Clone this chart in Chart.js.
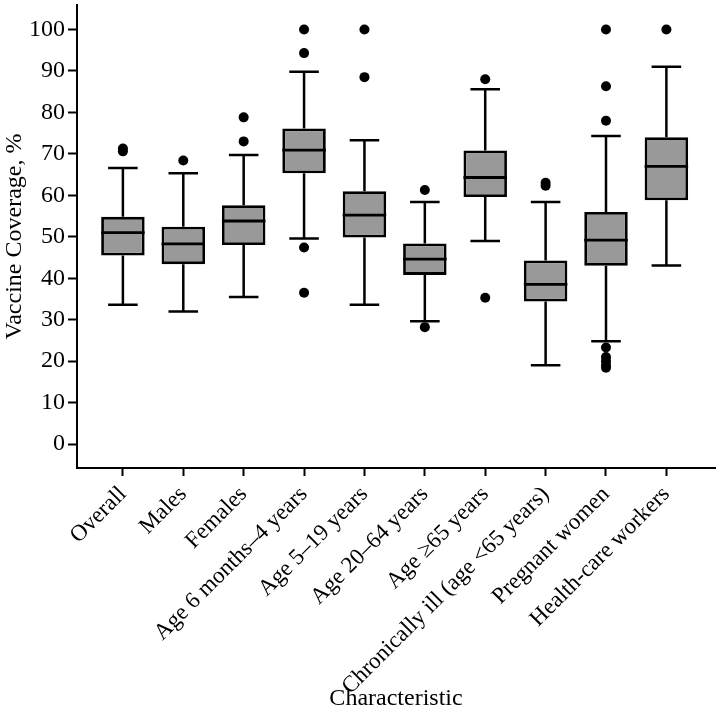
<!DOCTYPE html>
<html>
<head>
<meta charset="utf-8">
<script src="https://cdn.jsdelivr.net/npm/chart.js@4/dist/chart.umd.min.js"></script>
<style>
  body { margin: 0; background: #fff; }
  #wrap { width: 720px; height: 713px; }
</style>
</head>
<body>
<div id="wrap"><canvas id="chart"></canvas></div>
<script>
const categories = ['Overall', 'Males', 'Females', 'Age 6 months\u20134 years', 'Age 5\u201319 years',
  'Age 20\u201364 years', 'Age \u226565 years', 'Chronically ill (age <65 years)', 'Pregnant women', 'Health-care workers'];

// box plot statistics per category
const whiskerLow = [33.6, 32.0, 35.5, 49.6, 33.6, 29.6, 49.0, 19.0, 24.8, 43.1];
const q1 =         [45.5, 43.4, 48.0, 65.3, 49.8, 40.8, 59.6, 34.4, 43.0, 58.8];
const median =     [51.0, 48.3, 53.8, 70.9, 55.2, 44.6, 64.3, 38.5, 49.2, 67.0];
const q3 =         [54.8, 52.4, 57.6, 76.1, 61.0, 48.4, 70.8, 44.3, 56.0, 74.0];
const whiskerHigh = [66.6, 65.3, 69.7, 89.8, 73.3, 58.4, 85.6, 58.4, 74.3, 91.0];
const outliers = [
  [70.6, 71.3],
  [68.4],
  [78.8, 73.0],
  [100, 94.3, 47.4, 36.5],
  [100, 88.5],
  [61.3, 28.2],
  [88.0, 35.3],
  [62.3, 63.0],
  [100, 86.3, 78.0, 23.3, 21.0, 20.0, 19.0, 18.4],
  [100]
];

const yTicks = [0, 10, 20, 30, 40, 50, 60, 70, 80, 90, 100];

const FONT = '"Liberation Serif", "Times New Roman", Times, serif';

const boxData = categories.map((c, i) => ({ x: i, y: [q1[i], q3[i]] }));
const outlierData = [];
outliers.forEach((list, i) => list.forEach(v => outlierData.push({ x: i, y: v })));

const boxPlugin = {
  id: 'boxParts',
  beforeDatasetsDraw(chart) {
    const ctx = chart.ctx;
    const y = chart.scales.y;
    const bars = chart.getDatasetMeta(0).data;
    ctx.save();
    ctx.strokeStyle = '#000';
    ctx.lineWidth = 2.5;
    bars.forEach((bar, i) => {
      const cx = bar.x;
      const cap = bar.width * 0.34;
      const yLo = y.getPixelForValue(whiskerLow[i]);
      const yHi = y.getPixelForValue(whiskerHigh[i]);
      ctx.beginPath();
      ctx.moveTo(cx, yHi); ctx.lineTo(cx, y.getPixelForValue(q3[i]));
      ctx.moveTo(cx, y.getPixelForValue(q1[i])); ctx.lineTo(cx, yLo);
      ctx.moveTo(cx - cap, yHi); ctx.lineTo(cx + cap, yHi);
      ctx.moveTo(cx - cap, yLo); ctx.lineTo(cx + cap, yLo);
      ctx.stroke();
    });
    ctx.restore();
  },
  afterDatasetDraw(chart, args) {
    if (args.index !== 0) return;
    const ctx = chart.ctx;
    const y = chart.scales.y;
    const bars = chart.getDatasetMeta(0).data;
    ctx.save();
    ctx.strokeStyle = '#000';
    ctx.lineWidth = 2.8;
    bars.forEach((bar, i) => {
      const ym = y.getPixelForValue(median[i]);
      ctx.beginPath();
      ctx.moveTo(bar.x - bar.width / 2, ym);
      ctx.lineTo(bar.x + bar.width / 2, ym);
      ctx.stroke();
    });
    ctx.restore();
  }
};

function draw() {
  new Chart(document.getElementById('chart'), {
    type: 'bar',
    data: {
      datasets: [
        {
          label: 'IQR',
          data: boxData,
          backgroundColor: '#999999',
          borderColor: '#000',
          borderWidth: 2.8,
          borderSkipped: false,
          categoryPercentage: 1,
          barPercentage: 0.72,
          order: 2
        },
        {
          type: 'scatter',
          label: 'Outliers',
          data: outlierData,
          backgroundColor: '#000',
          borderWidth: 0,
          pointRadius: 5,
          order: 1
        }
      ]
    },
    options: {
      responsive: true,
      maintainAspectRatio: false,
      animation: false,
      layout: { padding: { top: 3, right: 0, left: 0, bottom: 0 } },
      plugins: { legend: { display: false }, tooltip: { enabled: false } },
      scales: {
        x: {
          type: 'linear',
          min: -0.76,
          max: 9.805,
          offset: false,
          grid: { display: true, drawOnChartArea: false, drawTicks: true, tickLength: 8, tickWidth: 2, tickColor: '#000', offset: false },
          border: { display: true, color: '#000', width: 2 },
          afterBuildTicks(scale) { scale.ticks = categories.map((c, i) => ({ value: i })); },
          afterFit(scale) { scale.height = 245; scale.paddingLeft = 0; scale.paddingRight = 0; },
          ticks: {
            autoSkip: false,
            maxRotation: 45,
            minRotation: 45,
            padding: 5,
            color: '#000',
            font: { family: FONT, size: 23 },
            callback: v => categories[v]
          },
          title: {
            display: true,
            text: 'Characteristic',
            color: '#000',
            font: { family: FONT, size: 24 },
            padding: { top: 0, bottom: 0 }
          }
        },
        y: {
          min: -5.77,
          max: 105.9,
          grid: { display: true, drawOnChartArea: false, drawTicks: true, tickLength: 9, tickWidth: 2, tickColor: '#000' },
          border: { display: true, color: '#000', width: 2 },
          afterBuildTicks(scale) { scale.ticks = yTicks.map(v => ({ value: v })); },
          afterFit(scale) { scale.width = 77; scale.paddingTop = 0; scale.paddingBottom = 0; },
          ticks: {
            padding: 3,
            color: '#000',
            font: { family: FONT, size: 24 }
          },
          title: {
            display: true,
            text: 'Vaccine Coverage, %',
            color: '#000',
            font: { family: FONT, size: 24 },
            padding: { top: 0, bottom: 0 }
          }
        }
      }
    },
    plugins: [boxPlugin]
  });
}

if (document.fonts && document.fonts.load) {
  document.fonts.load('24px "Liberation Serif"').then(draw, draw);
} else {
  draw();
}
</script>
</body>
</html>
